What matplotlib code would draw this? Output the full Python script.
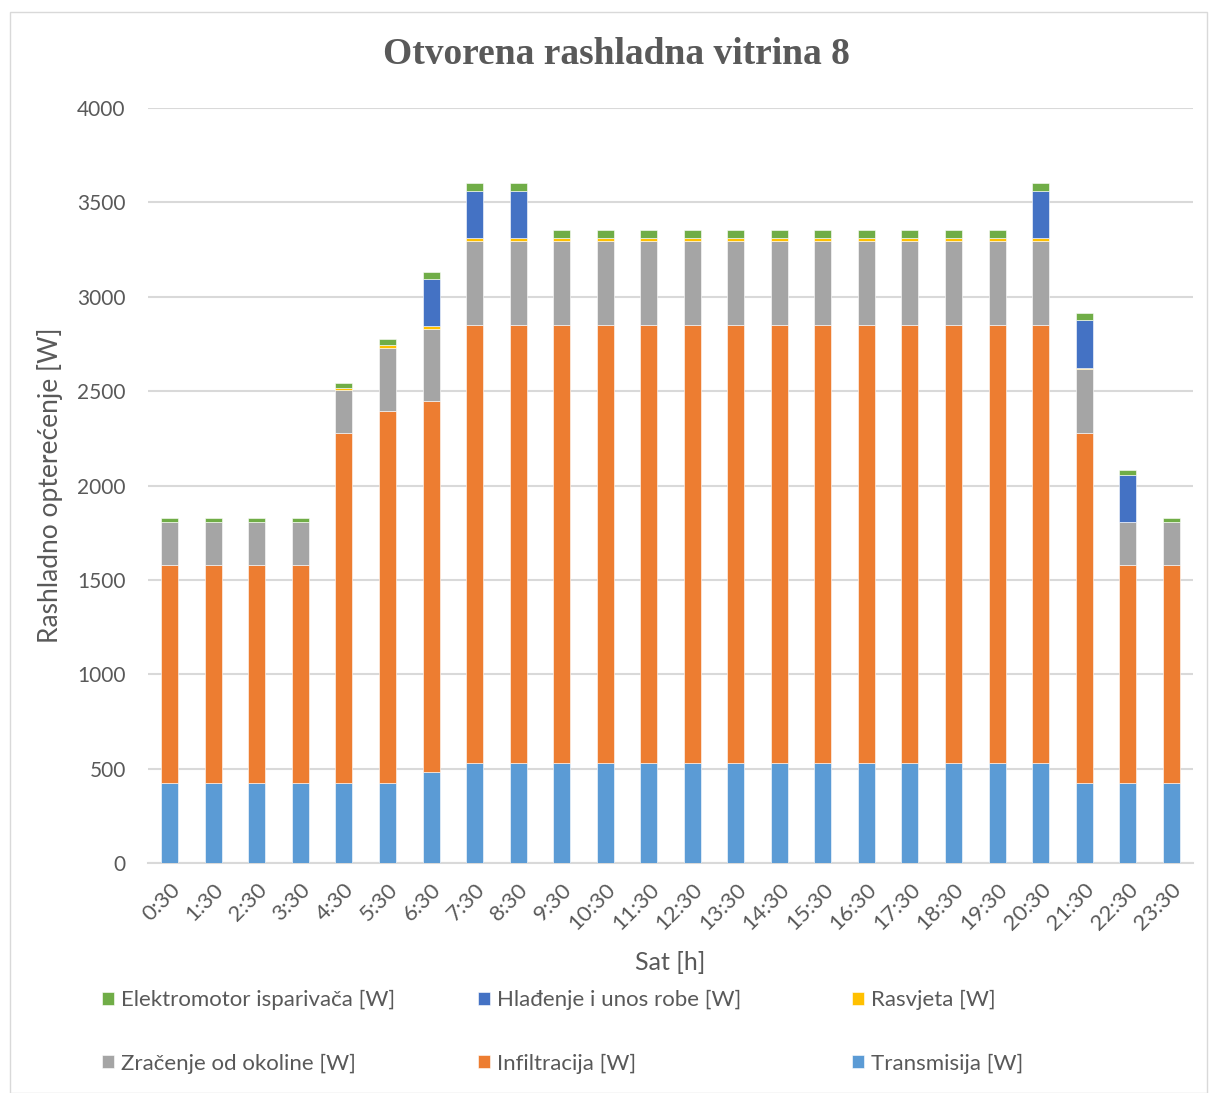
import numpy as np
import matplotlib.pyplot as plt
from matplotlib.patches import Rectangle

plt.rcParams['font.family'] = ['Lato', 'DejaVu Sans']

# podaci
sati = ['0:30', '1:30', '2:30', '3:30', '4:30', '5:30', '6:30', '7:30', '8:30', '9:30',
        '10:30', '11:30', '12:30', '13:30', '14:30', '15:30', '16:30', '17:30', '18:30',
        '19:30', '20:30', '21:30', '22:30', '23:30']

transmisija = [425, 425, 425, 425, 425, 425, 480] + [530] * 14 + [425, 425, 425]
infiltracija = [1155, 1155, 1155, 1155, 1855, 1970, 1970] + [2320] * 14 + [1855, 1155, 1155]
zracenje = [225, 225, 225, 225, 225, 335, 380] + [445] * 14 + [335, 225, 225]
rasvjeta = [0, 0, 0, 0, 10, 12, 14] + [16] * 14 + [10, 0, 0]
hladjenje = [0, 0, 0, 0, 0, 0, 250, 250, 250] + [0] * 11 + [250, 250, 250, 0]
elektromotor = [22, 22, 22, 22, 28, 32, 37] + [43] * 14 + [37, 28, 22]

serije = [
    ("Transmisija [W]", transmisija, "#5B9BD5"),
    ("Infiltracija [W]", infiltracija, "#ED7D31"),
    ("Zračenje od okoline [W]", zracenje, "#A5A5A5"),
    ("Rasvjeta [W]", rasvjeta, "#FFC000"),
    ("Hlađenje i unos robe [W]", hladjenje, "#4472C4"),
    ("Elektromotor isparivača [W]", elektromotor, "#70AD47"),
]

fig = plt.figure(figsize=(12.09, 10.93), dpi=100)
ax = fig.add_axes([148 / 1209, 1 - 863 / 1093, (1193 - 148) / 1209, (863 - 108) / 1093])

x = np.arange(len(sati))
dno = np.zeros(len(sati))
handles = {}
for naziv, vrijednosti, boja in serije:
    v = np.array(vrijednosti, dtype=float)
    b = ax.bar(x, v, 0.39, bottom=dno, color=boja, edgecolor='white', linewidth=0.4,
               label=naziv, zorder=3)
    handles[naziv] = b
    dno += v

ax.set_xlim(-0.5, len(sati) - 0.5)
ax.set_ylim(0, 4000)
ax.set_yticks(np.arange(0, 4001, 500))
ax.yaxis.grid(True, color='#D9D9D9', linewidth=1.5, zorder=0)
for s in ['top', 'right', 'left']:
    ax.spines[s].set_visible(False)
ax.spines['bottom'].set_color('#D9D9D9')
ax.spines['bottom'].set_linewidth(1.5)
ax.tick_params(axis='both', length=0, labelcolor='#595959')
ax.tick_params(axis='y', pad=16, labelsize=15)
ax.set_xticks(x)
ax.set_xticklabels(sati, rotation=45, ha='right', rotation_mode='anchor')
ax.tick_params(axis='x', pad=12, labelsize=16)

ax.set_ylabel('Rashladno opterećenje [W]', fontsize=19, color='#595959', labelpad=10)
ax.set_xlabel('Sat [h]', fontsize=18, color='#595959', labelpad=12)

fig.text(0.5 + 0.01, 1 - 55 / 1093, 'Otvorena rashladna vitrina 8', ha='center', va='center',
         fontsize=27, fontweight='bold', family='Liberation Serif', color='#595959')

# legenda u tri stupca
stupci = [("Elektromotor isparivača [W]", "Zračenje od okoline [W]", 102),
          ("Hlađenje i unos robe [W]", "Infiltracija [W]", 478),
          ("Rasvjeta [W]", "Transmisija [W]", 852)]
for gornji, donji, px in stupci:
    leg = fig.legend([handles[gornji], handles[donji]], [gornji, donji],
                     loc='upper left', bbox_to_anchor=(px / 1209, 1 - 990 / 1093),
                     frameon=False, fontsize=16, labelcolor='#595959',
                     handlelength=0.55, handleheight=0.55, handletextpad=0.3,
                     labelspacing=1.95, borderpad=0, borderaxespad=0)

fig.patches.append(Rectangle((10 / 1209, 0), 1 - 12 / 1209, 1 - 12 / 1093,
                             transform=fig.transFigure, fill=False,
                             edgecolor='#D9D9D9', linewidth=1))

fig.savefig('out.png', dpi=100)
